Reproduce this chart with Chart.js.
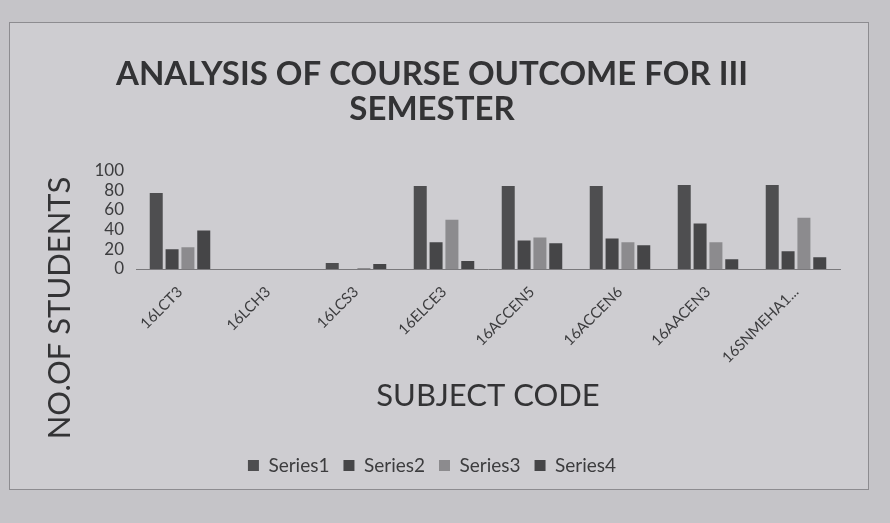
<!DOCTYPE html>
<html lang="en">
  <head>
    <meta charset="UTF-8" />
    <title>Analysis of Course Outcome for III Semester</title>
    <script src="https://cdn.jsdelivr.net/npm/chart.js"></script>
    <style>
      body { margin: 0; background: #c5c4c8; }
      .wrap { position: relative; width: 890px; height: 523px; }
      .frame {
        position: absolute; left: 9px; top: 22px; width: 858px; height: 466px;
        border: 1px solid #8d8c90; background: #cecdd1;
      }
      canvas { position: absolute; left: 0; top: 0; }
    </style>
  </head>
  <body>
    <div class="wrap">
      <div class="frame"></div>
      <canvas id="coChart" width="890" height="523"></canvas>
    </div>

    <script>
      const subjects = ["16LCT3", "16LCH3", "16LCS3", "16ELCE3", "16ACCEN5", "16ACCEN6", "16AACEN3", "16SNMEHA1..."];
      const series1 = [77, 0, 6, 84, 84, 84, 85, 85];
      const series2 = [20, 0, 0, 27, 29, 31, 46, 18];
      const series3 = [22, 0, 1, 50, 32, 27, 27, 52];
      const series4 = [39, 0, 5, 8, 26, 24, 10, 12];
      const yTicks = [0, 20, 40, 60, 80, 100];
      const yTitle = "NO.OF STUDENTS";

      const textColor = "#3c3c3e";
      const titleColor = "#333335";

      // the y title sits lower than the plot in the original, so draw it by hand
      const yTitlePlugin = {
        id: "yTitle",
        afterDraw(chart) {
          const ctx = chart.ctx;
          ctx.save();
          ctx.translate(60, 308);
          ctx.rotate(-Math.PI / 2);
          ctx.font = "31px Lato";
          ctx.fillStyle = titleColor;
          ctx.textAlign = "center";
          ctx.textBaseline = "middle";
          ctx.fillText(yTitle, 0, 0);
          ctx.restore();
        },
      };

      new Chart(document.getElementById("coChart"), {
        type: "bar",
        data: {
          labels: subjects,
          datasets: [
            { label: "Series1", data: series1, backgroundColor: "#4e4e50" },
            { label: "Series2", data: series2, backgroundColor: "#464648" },
            { label: "Series3", data: series3, backgroundColor: "#8c8b8e" },
            { label: "Series4", data: series4, backgroundColor: "#454547" },
          ],
        },
        plugins: [yTitlePlugin],
        options: {
          responsive: false,
          animation: false,
          layout: { padding: { top: 57, left: 24, right: 50, bottom: 38 } },
          datasets: {
            bar: { categoryPercentage: 0.72, barPercentage: 0.82 },
          },
          plugins: {
            title: {
              display: true,
              text: ["ANALYSIS OF COURSE OUTCOME FOR III", "SEMESTER"],
              color: titleColor,
              font: { family: "Lato", size: 33, weight: "bold", lineHeight: 1.05 },
              padding: { top: 0, bottom: 44 },
            },
            legend: {
              position: "bottom",
              labels: {
                color: textColor,
                font: { family: "Lato", size: 19 },
                boxWidth: 11,
                boxHeight: 11,
                padding: 14,
              },
            },
            tooltip: { enabled: false },
          },
          scales: {
            x: {
              grid: { display: false },
              border: { color: "#7a797c" },
              afterFit: (axis) => {
                axis.height = 173;
              },
              ticks: {
                color: textColor,
                font: { family: "Lato", size: 15 },
                minRotation: 45,
                maxRotation: 45,
                padding: 6,
              },
              title: {
                display: true,
                text: "SUBJECT CODE",
                color: titleColor,
                font: { family: "Lato", size: 31 },
                padding: { top: 10, bottom: 27 },
              },
            },
            y: {
              min: 0,
              max: 100,
              grid: { display: false },
              border: { display: false },
              afterFit: (axis) => {
                axis.width = 112;
              },
              afterBuildTicks: (axis) => {
                axis.ticks = yTicks.map((v) => ({ value: v }));
              },
              ticks: {
                autoSkip: false,
                color: textColor,
                font: { family: "Lato", size: 17 },
                padding: 4,
              },
            },
          },
        },
      });
    </script>
  </body>
</html>
